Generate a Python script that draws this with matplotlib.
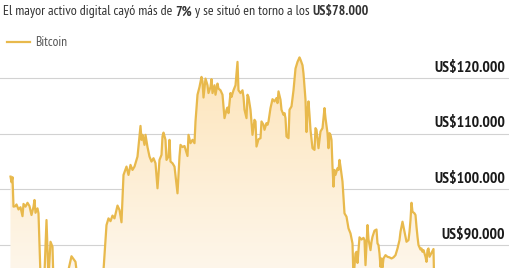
import matplotlib
matplotlib.use("Agg")
import matplotlib.pyplot as plt
import numpy as np

# días desde el inicio de la serie y precio de cierre (US$)
days = [0, 1, 2, 3, 5, 6, 8, 10, 12, 13, 15, 17, 19, 21, 23, 24, 25, 27, 28,
        30, 32, 34, 36, 38, 40, 42, 43, 46, 48, 51, 54, 57, 61, 63, 65, 67, 70,
        73, 75, 78, 81, 84, 87, 90, 93, 96, 98, 100, 102, 104, 107, 109, 111,
        113, 116, 118, 120, 122, 124, 127, 130, 131, 132, 134, 135, 137, 139,
        141, 143, 145, 147, 149, 151, 152, 153, 155, 156, 158, 159, 160, 162,
        164, 167, 169, 170, 172, 174, 177, 178, 180, 182, 184, 185, 187, 189,
        191, 192, 193, 195, 197, 198, 200, 201, 202, 204, 205, 207, 208, 210,
        212, 214, 216, 217, 218, 220, 221, 223, 225, 227, 228, 230, 232, 233,
        234, 236, 237, 238, 240, 242, 244, 245, 246, 248, 250, 251, 253, 254,
        256, 257, 258, 260, 262, 264, 266, 267, 268, 270, 271, 273, 274, 275,
        276, 278, 279, 281, 283, 285, 287, 289, 290, 292, 293, 295, 296, 297,
        298, 299, 300, 302, 304, 305, 306, 308, 310, 312, 314, 315, 317, 318,
        319, 320, 321, 322, 323, 324, 325, 327, 328, 329, 330, 332, 333, 334,
        336, 338, 340, 342, 343, 345, 346, 347, 348, 349, 351, 353, 354, 355,
        357, 358, 360, 361, 362, 364, 366, 367, 368, 369, 370, 371, 372, 373,
        375, 377, 379, 381, 383, 385, 387, 389, 390, 392, 393, 395, 396, 398,
        399, 400, 401, 402, 404, 405, 406, 407, 408, 410, 411, 412, 413, 415,
        416, 417, 418, 419, 421, 423, 424, 425]
prices = [102300, 101300, 102200, 96900, 97000, 97300, 96400, 96800, 95200,
          97400, 96900, 97600, 97000, 95400, 96900, 98100, 95800, 96600, 95700,
          84500, 83500, 85000, 94500, 84000, 90600, 89700, 83000, 80500, 82800,
          84000, 82500, 84800, 88000, 87500, 87000, 84000, 82000, 79000, 76500,
          79500, 83500, 84500, 83800, 85000, 85500, 93600, 94800, 94300, 95300,
          94800, 97100, 96300, 94100, 102600, 104100, 102600, 104400, 103500,
          104100, 105900, 111400, 108900, 109800, 108000, 109800, 107600,
          105900, 105000, 105600, 104700, 100200, 105300, 106200, 109500,
          110200, 108900, 105300, 105900, 108900, 105000, 104700, 104100,
          99300, 105900, 108000, 107600, 107800, 106000, 109800, 108300,
          108900, 108300, 112200, 117000, 118400, 120200, 119400, 116500,
          119900, 118700, 117300, 118400, 119800, 117300, 118700, 117000,
          119000, 118100, 117800, 117000, 112800, 114300, 114700, 113700,
          117300, 116600, 117800, 118700, 122900, 117800, 117300, 117800,
          116600, 114300, 112800, 117000, 116600, 114300, 109800, 112500,
          112200, 107700, 109000, 109200, 112200, 111600, 110700, 111900,
          111600, 112200, 114600, 116200, 115800, 116400, 115500, 117600,
          116100, 114300, 113400, 113700, 112800, 109500, 109200, 114300,
          114900, 117800, 121700, 122900, 123700, 123300, 122300, 120800,
          116100, 110300, 114000, 115800, 113400, 110700, 107400, 107100,
          111000, 110700, 107400, 110400, 111000, 114600, 112800, 110100,
          107400, 110100, 109800, 108900, 104100, 100500, 103500, 102600,
          103800, 103500, 105300, 104100, 101400, 98700, 95700, 95100, 93000,
          92100, 90300, 84000, 88500, 88800, 86800, 89000, 91400, 91000, 91300,
          90900, 86400, 93600, 91000, 89100, 90600, 91500, 92600, 92800, 90300,
          90000, 88500, 86100, 87600, 86000, 87600, 88200, 87900, 87800, 87600,
          87800, 88200, 89400, 90900, 92400, 94200, 93300, 91500, 90600, 90900,
          92400, 94500, 97600, 96000, 95700, 95400, 93300, 91500, 90000, 89200,
          89400, 88800, 89100, 87900, 87000, 89100, 89400, 87900, 88600, 89300,
          80000, 78000]

grid_values = [120000, 110000, 100000, 90000]
grid_labels = ["US$120.000", "US$110.000", "US$100.000", "US$90.000"]

line_color = "#e8b94c"
cond = ["PT Sans Narrow", "DejaVu Sans"]

fig = plt.figure(figsize=(5.10, 2.68), dpi=100)
ax = fig.add_axes([0, 0, 1, 0.8134])
ax.set_xlim(-10.5, 499.5)
ax.set_ylim(85890, 125030)
ax.axis("off")

for v, lab in zip(grid_values, grid_labels):
    ax.axhline(v, color="#d2d2d2", lw=0.8, zorder=1)
    ax.annotate(lab, xy=(0.990, v), xycoords=ax.get_yaxis_transform(),
                xytext=(0, 4.5), textcoords="offset points",
                ha="right", va="baseline", fontsize=11.3, fontweight="bold",
                family=cond, color="#1a1a1a", zorder=5)

# relleno con degradado bajo la curva
poly = ax.fill_between(days, prices, 70000, facecolor="none", edgecolor="none")
grad = np.linspace(1, 0, 256).reshape(-1, 1)
cmap = matplotlib.colors.LinearSegmentedColormap.from_list(
    "g", ["#fef6ea", "#fde4b8"])
im = ax.imshow(grad, cmap=cmap, aspect="auto", origin="upper",
               extent=[-10.5, 499.5, 85890, 125030], zorder=2)
im.set_clip_path(poly.get_paths()[0], ax.transData)

ax.plot(days, prices, color=line_color, lw=1.6, zorder=3,
        solid_joinstyle="round")

# título con partes en negrita
renderer = fig.canvas.get_renderer()
parts = [("El mayor activo digital cayó más de ", "normal"), ("7%", "bold"),
         (" y se situó en torno a los ", "normal"), ("US$78.000", "bold")]
x = 3
for txt, w in parts:
    t = fig.text(x / 510, 1 - 15.5 / 268, txt, fontsize=10, fontweight=w,
                 family=cond, color="#333333", va="baseline", ha="left")
    x += t.get_window_extent(renderer).width

# leyenda
fig.add_artist(plt.Line2D([7 / 510, 30 / 510], [1 - 42 / 268, 1 - 42 / 268],
                          color=line_color, lw=1.6))
fig.text(35 / 510, 1 - 46 / 268, "Bitcoin", fontsize=9.6, family=cond,
         color="#555555", va="baseline", ha="left")

fig.savefig("out.png", dpi=100)
